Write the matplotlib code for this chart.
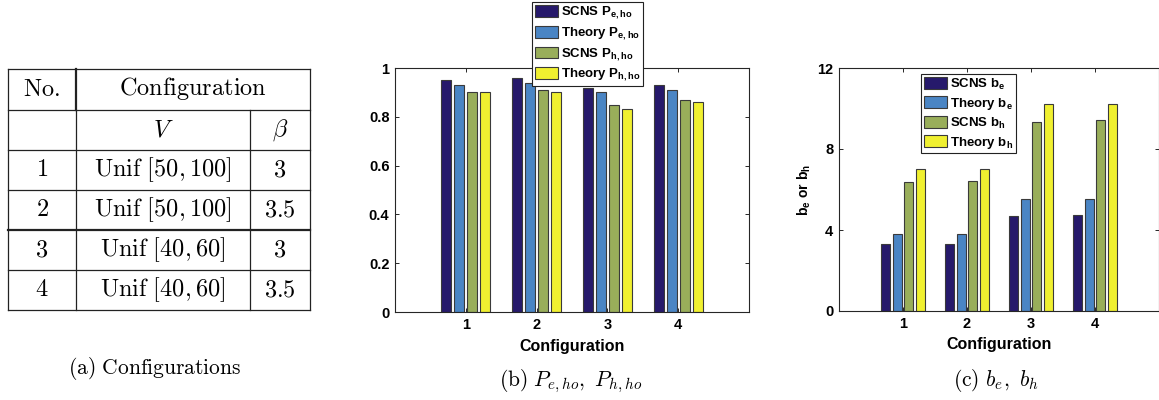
import numpy as np
import matplotlib.pyplot as plt
from matplotlib.lines import Line2D

plt.rcParams['font.family'] = ['Liberation Sans', 'DejaVu Sans']
plt.rcParams['font.weight'] = 'bold'
plt.rcParams['mathtext.fontset'] = 'custom'
plt.rcParams['mathtext.rm'] = 'Liberation Sans:bold'
plt.rcParams['mathtext.it'] = 'Liberation Sans:bold'
plt.rcParams['mathtext.bf'] = 'Liberation Sans:bold'

# data
configs = [1, 2, 3, 4]
scns_pe = [0.95, 0.96, 0.92, 0.93]
theory_pe = [0.93, 0.94, 0.90, 0.91]
scns_ph = [0.90, 0.91, 0.85, 0.87]
theory_ph = [0.90, 0.90, 0.83, 0.86]

scns_be = [3.30, 3.30, 4.71, 4.75]
theory_be = [3.79, 3.79, 5.52, 5.52]
scns_bh = [6.35, 6.41, 9.31, 9.43]
theory_bh = [6.99, 7.00, 10.22, 10.22]

labels_b = ['SCNS P$_{e,ho}$', 'Theory P$_{e,ho}$', 'SCNS P$_{h,ho}$', 'Theory P$_{h,ho}$']
labels_c = ['SCNS b$_{e}$', 'Theory b$_{e}$', 'SCNS b$_{h}$', 'Theory b$_{h}$']

tab_no = ['1', '2', '3', '4']
tab_v = [r'$\mathrm{Unif}\ [50, 100]$', r'$\mathrm{Unif}\ [50, 100]$',
         r'$\mathrm{Unif}\ [40, 60]$', r'$\mathrm{Unif}\ [40, 60]$']
tab_beta = ['3', '3.5', '3', '3.5']

colors = ['#26196b', '#4a85c4', '#99ae5a', '#f0f030']

W, H = 1159, 400
fig = plt.figure(figsize=(W / 100, H / 100), dpi=100)

# overlay axes in pixel coordinates for the table and captions
ov = fig.add_axes([0, 0, 1, 1])
ov.set_xlim(0, W)
ov.set_ylim(H, 0)
ov.axis('off')

rows_y = [69, 110, 150, 190, 230, 270, 310]
x0, x1, x2, x3 = 8, 76, 250, 310
for i, y in enumerate(rows_y):
    lw = 1.6 if i == 4 else 0.9
    ov.add_line(Line2D([x0, x3], [y, y], color='#222222', lw=lw))
ov.add_line(Line2D([x0, x0], [69, 310], color='#222222', lw=0.9))
ov.add_line(Line2D([x3, x3], [69, 310], color='#222222', lw=0.9))
ov.add_line(Line2D([x1, x1], [69, 110], color='#222222', lw=1.6))
ov.add_line(Line2D([x1, x1], [110, 310], color='#222222', lw=0.9))
ov.add_line(Line2D([x2, x2], [110, 310], color='#222222', lw=0.9))

cm = dict(math_fontfamily='cm', fontsize=17.5, ha='center', va='center')
cx1, cx2, cx3 = (x0 + x1) / 2, (x1 + x2) / 2, (x2 + x3) / 2
ov.text(cx1, 89, r'$\mathrm{No.}$', **cm)
ov.text((x1 + x3) / 2, 89, r'$\mathrm{Configuration}$', **cm)
ov.text(cx2, 130, r'$V$', **cm)
ov.text(cx3, 130, r'$\beta$', **cm)
for i in range(4):
    yc = (rows_y[i + 2] + rows_y[i + 3]) / 2
    ov.text(cx1, yc, '$\\mathrm{' + tab_no[i] + '}$', **cm)
    ov.text(cx2, yc, tab_v[i], **cm)
    ov.text(cx3, yc, '$\\mathrm{' + tab_beta[i] + '}$', **cm)

cap = dict(math_fontfamily='cm', fontsize=15.5, ha='center', va='center')
ov.text(155, 369, r'$\mathrm{(a)\ Configurations}$', **cap)
ov.text(571, 381, r'$\mathrm{(b)}\ P_{e,ho},\ P_{h,ho}$', **cap)
ov.text(996, 381, r'$\mathrm{(c)}\ b_e,\ b_h$', **cap)

x = np.array(configs)
pitch = 0.183
bw = 0.145
offsets = np.array([-1.5, -0.5, 0.5, 1.5]) * pitch


def style_axes(ax):
    for s in ax.spines.values():
        s.set_color('#262626')
        s.set_linewidth(0.8)
    ax.tick_params(direction='in', length=3, width=0.7, top=True, right=True,
                   labelsize=10.5, colors='#262626', labelcolor='black', pad=4)
    ax.set_xlim(0, 5)
    ax.set_xticks(configs)
    ax.set_xlabel('Configuration', fontsize=11.5, fontweight='bold', labelpad=5)


leg_kw = dict(fontsize=9.5, frameon=True, fancybox=False, edgecolor='#222222',
              framealpha=1, borderpad=0.2, labelspacing=0.3, handlelength=1.75,
              handleheight=1.0, handletextpad=0.25, borderaxespad=0)

# chart b
axb = fig.add_axes([395 / W, 1 - 312 / H, 354 / W, 244 / H])
series_b = [scns_pe, theory_pe, scns_ph, theory_ph]
hb = []
for k, vals in enumerate(series_b):
    hb.append(axb.bar(x + offsets[k], vals, bw, color=colors[k],
                      edgecolor='#3a3a3a', linewidth=0.8, label=labels_b[k]))
axb.set_ylim(0, 1)
axb.set_yticks([0, 0.2, 0.4, 0.6, 0.8, 1])
axb.set_yticklabels(['0', '0.2', '0.4', '0.6', '0.8', '1'])
style_axes(axb)
lb = fig.legend(handles=hb, loc='upper left', bbox_to_anchor=(532 / W, 1 - 2 / H), **leg_kw)
lb.get_frame().set_linewidth(0.8)

# chart c
axc = fig.add_axes([839 / W, 1 - 311 / H, 320 / W, 243 / H])
series_c = [scns_be, theory_be, scns_bh, theory_bh]
hc = []
for k, vals in enumerate(series_c):
    hc.append(axc.bar(x + offsets[k], vals, bw, color=colors[k],
                      edgecolor='#3a3a3a', linewidth=0.8, label=labels_c[k]))
axc.set_ylim(0, 12)
axc.set_yticks([0, 4, 8, 12])
style_axes(axc)
axc.set_ylabel('b$_e$ or b$_h$', fontsize=10, fontweight='bold', labelpad=3)
lc = axc.legend(handles=hc, loc='upper left', bbox_to_anchor=(921 / W, 1 - 74 / H),
                bbox_transform=fig.transFigure, **leg_kw)
lc.get_frame().set_linewidth(0.8)

fig.savefig('out.png', dpi=100)
